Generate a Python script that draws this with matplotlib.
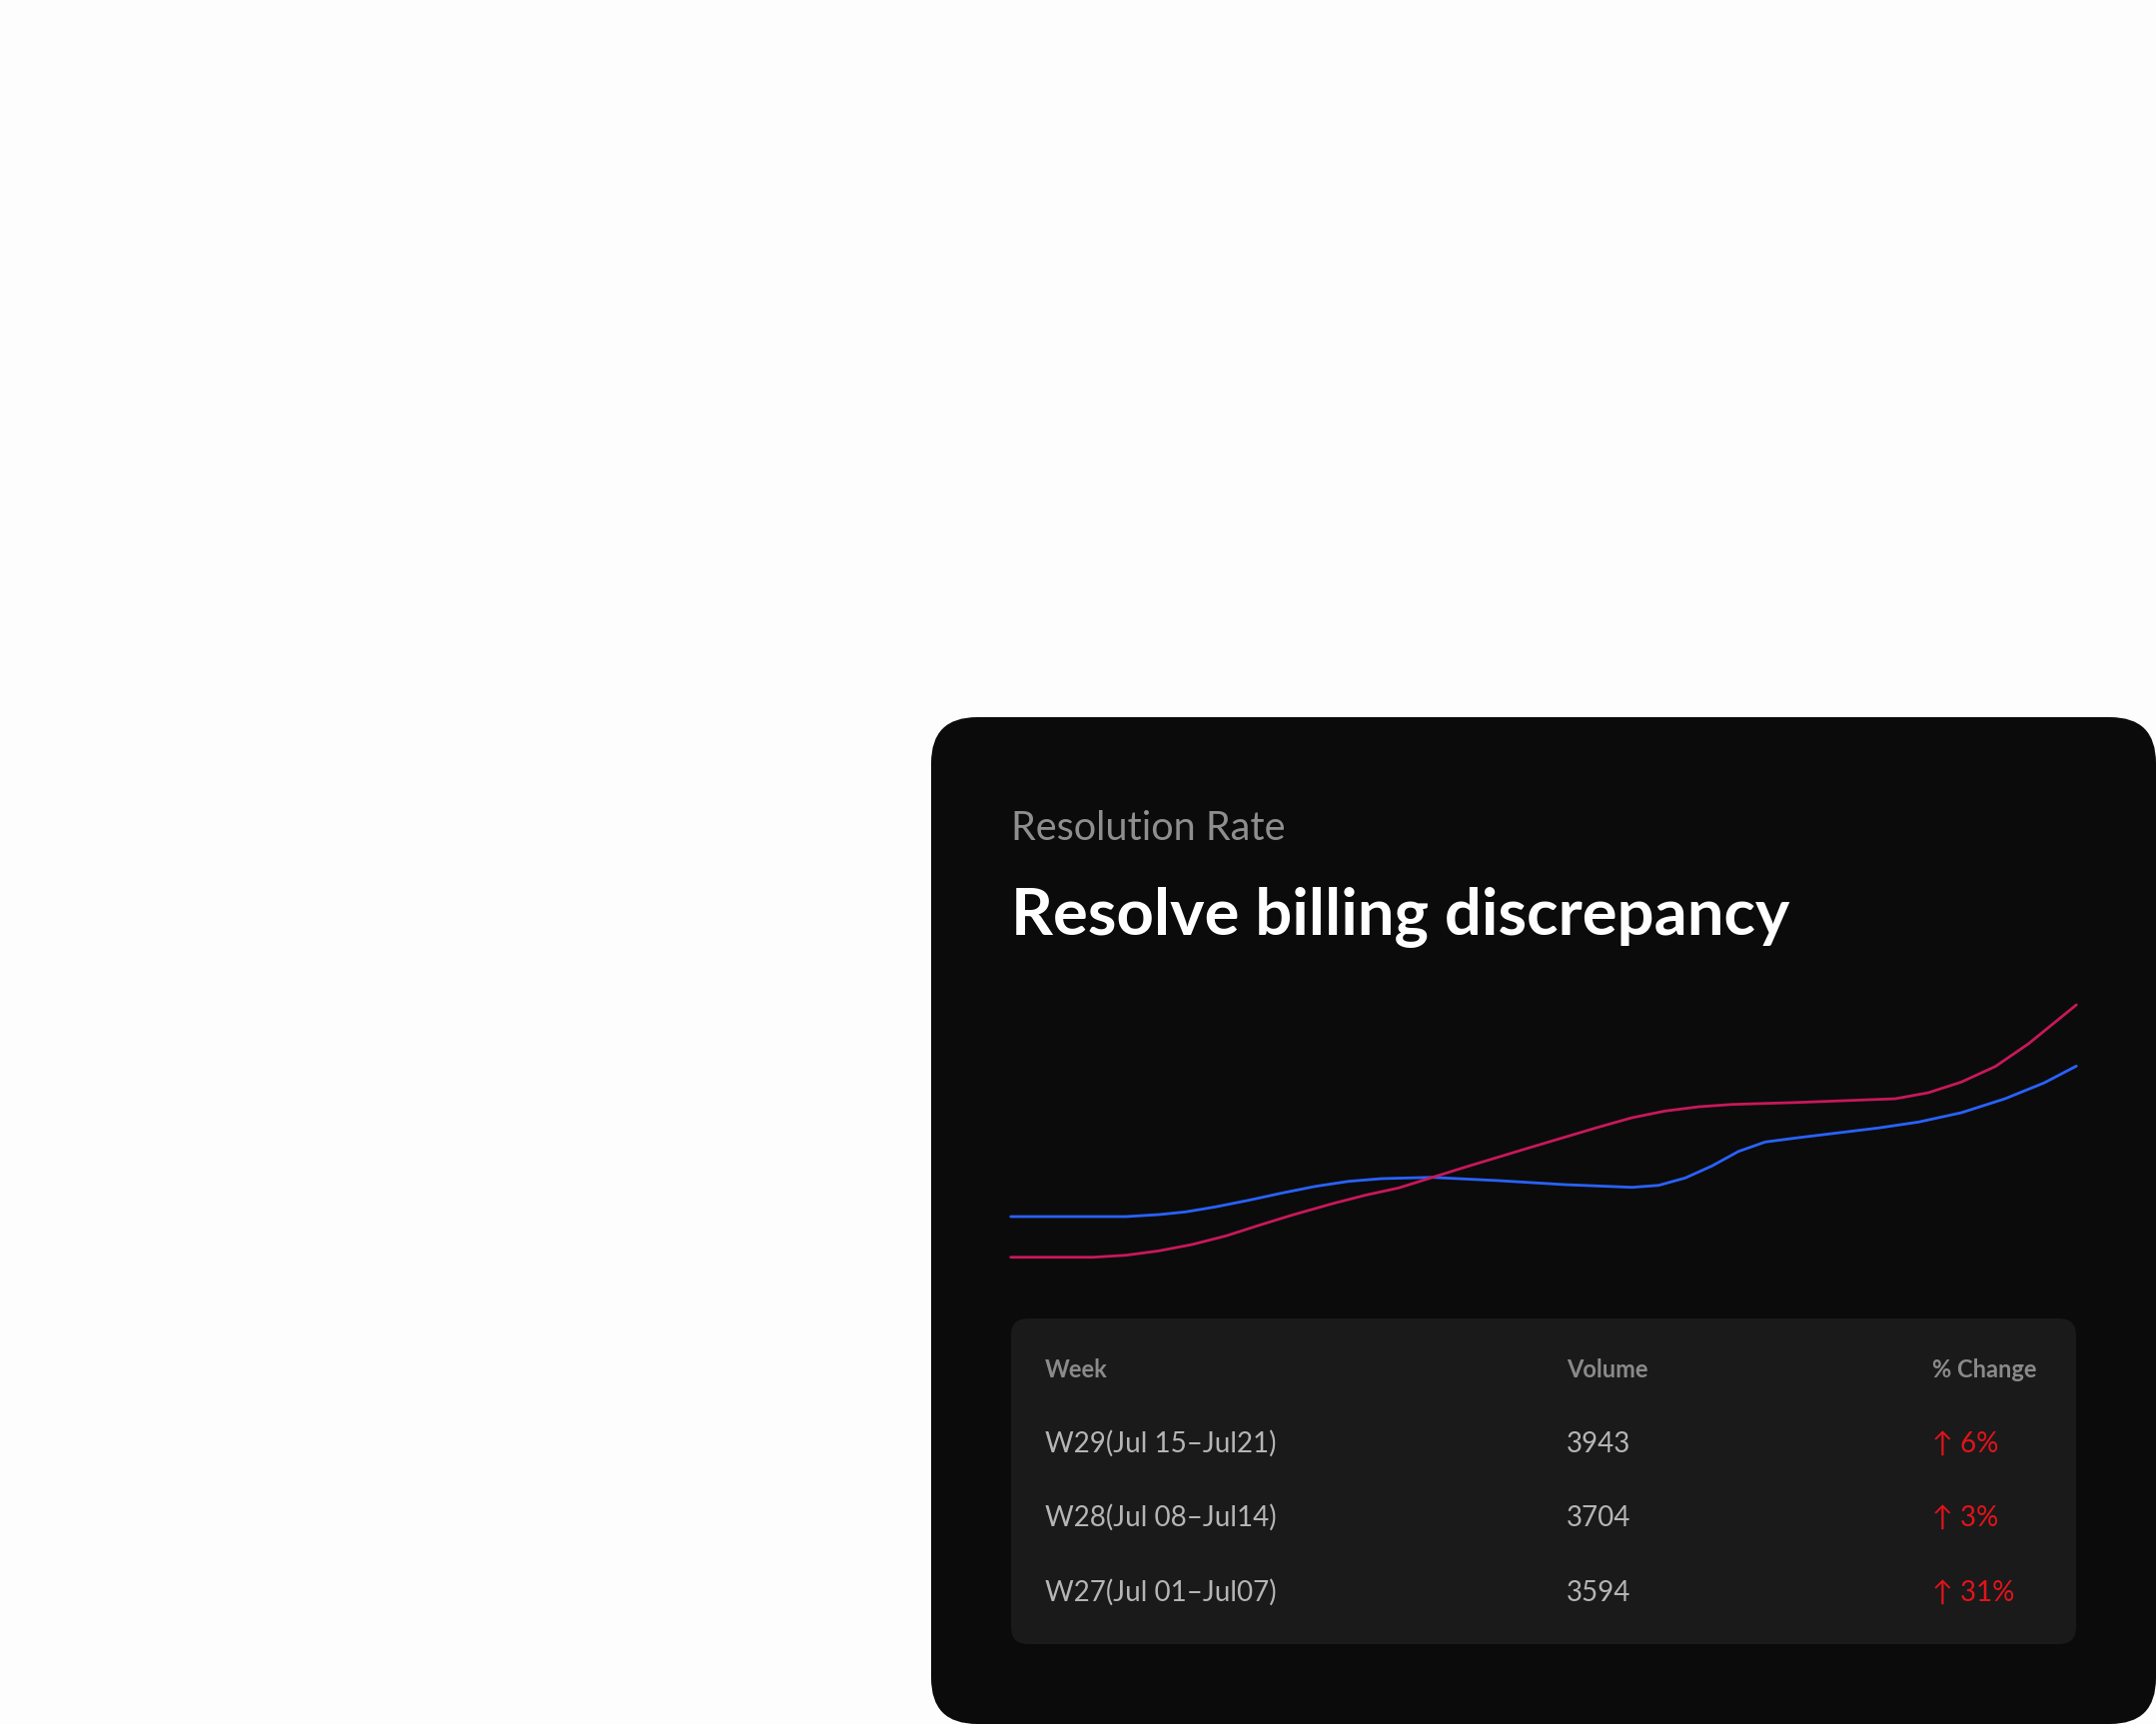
import matplotlib
matplotlib.use("Agg")
import matplotlib.pyplot as plt
from matplotlib.patches import FancyBboxPatch

# series (x = progress along the week range, 0..100)
blue_x = [0, 10.8, 13.9, 16.4, 19.2, 22.3, 25.5, 28.6, 31.7, 34.8, 39.5, 45.8, 52.0,
          58.3, 60.8, 63.3, 65.8, 68.3, 70.8, 73.9, 81.4, 85.2, 89.2, 93.3, 97.0, 100]
blue_y = [82, 82, 84, 86.7, 91.7, 98.3, 105.7, 112.3, 117.3, 120, 121.3, 118, 114,
          111.3, 113.3, 120.7, 132.7, 147.3, 156.7, 161, 170.7, 176.7, 186, 200, 216, 232.7]
red_x = [0, 7.7, 10.8, 13.9, 17.0, 20.2, 23.3, 26.4, 30.2, 33.3, 36.4, 42.7, 48.9,
         55.2, 58.3, 61.4, 64.6, 67.7, 73.9, 83.0, 86.1, 89.2, 92.4, 95.5, 100]
red_y = [41.3, 41.3, 43.3, 47.7, 54, 62.7, 73.3, 83.5, 95, 103.5, 110.7, 131.7, 151.7,
         171.7, 181, 187.7, 192, 194.3, 196.3, 200, 206, 216.7, 232.3, 255, 294]

header = ["Week", "Volume", "% Change"]
weeks = ["W29(Jul 15\u2013Jul21)", "W28(Jul 08\u2013Jul14)", "W27(Jul 01\u2013Jul07)"]
volumes = ["3943", "3704", "3594"]
changes = ["6%", "3%", "31%"]

W, H = 2158, 1726
fig = plt.figure(figsize=(W / 100, H / 100), dpi=100)
fig.patch.set_facecolor("#fdfdfd")

bg = fig.add_axes([0, 0, 1, 1])
bg.set_xlim(0, W)
bg.set_ylim(H, 0)
bg.axis("off")

# dark card and table panel
bg.add_patch(FancyBboxPatch((932, 718), W - 932, H - 718,
                            boxstyle="round,pad=0,rounding_size=46",
                            fc="#0b0b0b", ec="none"))
bg.add_patch(FancyBboxPatch((1012, 1320), 2078 - 1012, 1646 - 1320,
                            boxstyle="round,pad=0,rounding_size=17",
                            fc="#1a1a1a", ec="none"))

fam = ["Lato", "DejaVu Sans"]
bg.text(1012, 841, "Resolution Rate", fontsize=28.5, color="#8e8e8e",
        family=fam, va="baseline")
bg.text(1012, 936, "Resolve billing discrepancy", fontsize=47, color="white",
        family=fam, fontweight="bold", va="baseline")

# table
col_x = [1046, 1568, 1934]
for cx, h in zip(col_x, header):
    bg.text(cx, 1379, h, fontsize=17, color="#8a8a8a", family=fam,
            fontweight="bold", va="baseline")
row_y = [1454, 1528, 1603]
for ry, wk, vol, ch in zip(row_y, weeks, volumes, changes):
    bg.text(col_x[0], ry, wk, fontsize=20, color="#b5b5b5", family=fam,
            va="baseline")
    bg.text(col_x[1], ry, vol, fontsize=20, color="#b5b5b5", family=fam,
            va="baseline")
    bg.text(col_x[2], ry, "\u2191 " + ch, fontsize=20, color="#e3131b",
            family=fam, va="baseline")

# line chart
ax = fig.add_axes([1011.7 / W, 1 - 1300 / H, (2078.3 - 1011.7) / W, 320 / H])
ax.set_xlim(0, 100)
ax.set_ylim(0, 320)
ax.axis("off")
ax.patch.set_alpha(0)
ax.plot(blue_x, blue_y, color="#2962ff", lw=2.0, solid_capstyle="round",
        solid_joinstyle="round", clip_on=False)
ax.plot(red_x, red_y, color="#c8185a", lw=2.0, solid_capstyle="round",
        solid_joinstyle="round", clip_on=False)

fig.savefig("out.png", dpi=100, facecolor=fig.get_facecolor())
